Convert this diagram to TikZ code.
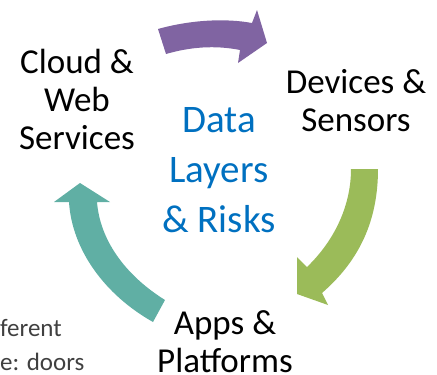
\documentclass[tikz,border=0pt]{standalone}
\usepackage{fontspec}
\setmainfont{Carlito}
\usepackage{tikz}
\usetikzlibrary{calc}
\usetikzlibrary{positioning}
\definecolor{cycPurple}{HTML}{8064A2}
\definecolor{cycGreen}{HTML}{9BBB59}
\definecolor{cycTeal}{HTML}{60AFA4}
\definecolor{coreBlue}{HTML}{0070C0}
\definecolor{bodyGray}{HTML}{404040}
\tikzset{
	align=center,
	layer/.style={
		inner sep=0pt,
		anchor=base,
		font=\fontsize{35}{38}\selectfont,
	},
	core/.style={
		inner sep=0pt,
		anchor=base,
		text=coreBlue,
		font=\fontsize{39}{50}\selectfont,
	},
	cyc/.style={
		draw=none,
	},
	bodytext/.style={
		inner sep=0pt,
		anchor=base west,
		text=bodyGray,
		font=\fontsize{25}{36}\selectfont,
	},
}

\begin{document}
\begin{tikzpicture}[x=1pt,y=-1pt]
		\useasboundingbox (0,0) rectangle (437,375);

		% anchor=base is the last line
		\node[layer] (L1) at (356,131) {Devices \&\\Sensors};
		\node[layer] (L2) at (225,372) {Apps \&\\Platforms};
		\node[layer] (L3) at (77,149) {Cloud \&\\Web\\Services};

		\node[core] (C) at (219,232) {Data\\Layers\\\& Risks};

		\node[bodytext] (B1) at (0,336) {ferent};
		\node[bodytext] (B2) at (0,370) {e: doors};

		% cycle arrows
		\fill[cyc,cycPurple] (158,29) .. controls (190,20) and (225,18) .. (252,23)
			-- (257,10) -- (267,43) -- (238,63) -- (240,50)
			.. controls (215,45) and (190,47) .. (166,54) -- cycle;
		\fill[cyc,cycGreen] (351,169) -- (378,169) .. controls (378,220) and (360,260) .. (322,293)
			-- (328,305) -- (297,294) -- (297,257) -- (307,267)
			.. controls (335,240) and (351,205) .. (351,169) -- cycle;
		\fill[cyc,cycTeal] (165,300) .. controls (125,275) and (100,240) .. (97,202)
			-- (110,202) -- (80,183) -- (54,202) -- (69,202)
			.. controls (72,250) and (105,295) .. (153,322) -- cycle;

	\end{tikzpicture}
\end{document}
